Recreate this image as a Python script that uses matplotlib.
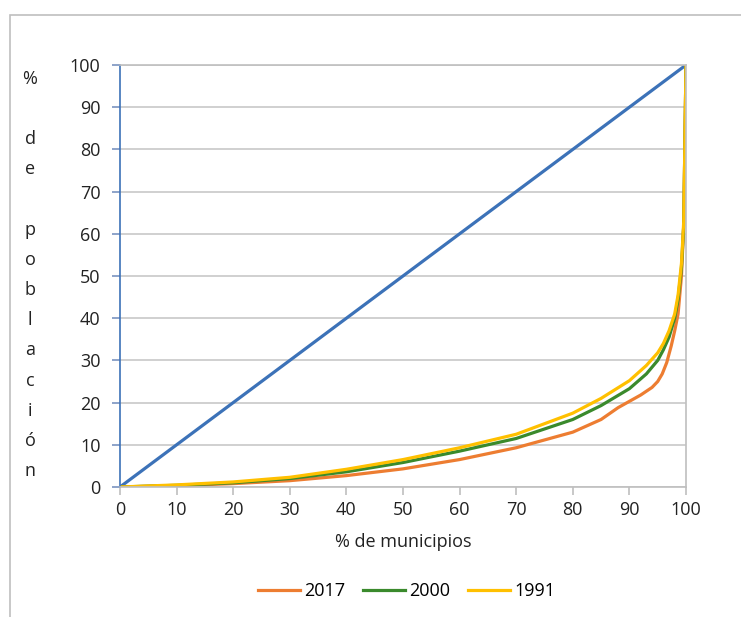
import matplotlib
matplotlib.use("Agg")
from matplotlib import pyplot as plt
from matplotlib.patches import Rectangle

plt.rcParams['font.family'] = ['Open Sans', 'DejaVu Sans']

# % de municipios (x) vs % de población (y)
x_equal = [0, 100]
y_equal = [0, 100]

x_2017 = [0, 10, 20, 30, 40, 50, 60, 70, 80, 85, 88, 90, 92, 94, 95, 95.8, 96.6, 97.4, 98, 98.6, 99.2, 99.6, 100]
y_2017 = [0, 0.3, 0.8, 1.5, 2.7, 4.3, 6.5, 9.3, 13.0, 16.0, 18.8, 20.3, 21.8, 23.6, 25.0, 26.8, 29.5, 33.5, 37.0, 41.0, 50.0, 62.0, 100]

x_2000 = [0, 10, 20, 30, 40, 50, 60, 70, 80, 85, 90, 93, 95, 96, 97, 98, 98.6, 99.2, 99.6, 100]
y_2000 = [0, 0.4, 1.0, 2.0, 3.6, 5.8, 8.5, 11.5, 16.0, 19.3, 23.3, 26.8, 30.0, 32.5, 35.5, 40.0, 44.5, 52.0, 62.0, 100]

x_1991 = [0, 10, 20, 30, 40, 50, 60, 70, 80, 85, 90, 93, 95, 96, 97, 98, 98.6, 99.2, 99.6, 100]
y_1991 = [0, 0.5, 1.2, 2.3, 4.2, 6.5, 9.3, 12.5, 17.5, 21.0, 25.2, 28.8, 31.8, 34.0, 37.0, 41.0, 45.5, 53.0, 63.0, 100]

fig = plt.figure(figsize=(7.41, 6.17), dpi=100)
fig.patches.append(Rectangle((10 / 741, -0.1), 1.2, 1.1 - 15 / 617, transform=fig.transFigure,
                             fill=False, edgecolor='#BFBFBF', linewidth=1.2))
ax = fig.add_axes([120 / 741, 1 - 487 / 617, (686 - 120) / 741, (487 - 65) / 617])

ax.plot(x_equal, y_equal, color='#3C72B8', lw=2.3, solid_capstyle='round')
l1, = ax.plot(x_2017, y_2017, color='#ED7D31', lw=2.3, label='2017')
l2, = ax.plot(x_2000, y_2000, color='#3A8A2C', lw=2.3, label='2000')
l3, = ax.plot(x_1991, y_1991, color='#FFC000', lw=2.3, label='1991')

ax.set_xlim(0, 100)
ax.set_ylim(0, 100)
ax.set_xticks(range(0, 101, 10))
ax.set_yticks(range(0, 101, 10))
ax.yaxis.grid(True, color='#C8C8C8', lw=1.2)
ax.set_axisbelow(True)
for s in ['top', 'right', 'bottom']:
    ax.spines[s].set_color('#BFBFBF')
    ax.spines[s].set_linewidth(1.2)
ax.spines['left'].set_color('#3C72B8')
ax.spines['left'].set_linewidth(1.2)
ax.tick_params(axis='x', colors='#BFBFBF', labelcolor='#222222', labelsize=13, length=6, width=1.2, pad=4)
ax.tick_params(axis='y', colors='#7A93C0', labelcolor='#222222', labelsize=13, length=6, width=1.2, pad=8)

ax.set_xlabel('% de municipios', fontsize=13, color='#222222', labelpad=10)

fig.text(30 / 741, 1 - 275 / 617, '\n'.join('% de población'), ha='center', va='center',
         fontsize=13, color='#222222', linespacing=1.87)

fig.legend(handles=[l1, l2, l3], loc='center', bbox_to_anchor=(0.549, 1 - 591 / 617), ncol=3,
           frameon=False, fontsize=13, handlelength=2.3, columnspacing=1.0, handletextpad=0.25)

fig.savefig('out.png', dpi=100)
